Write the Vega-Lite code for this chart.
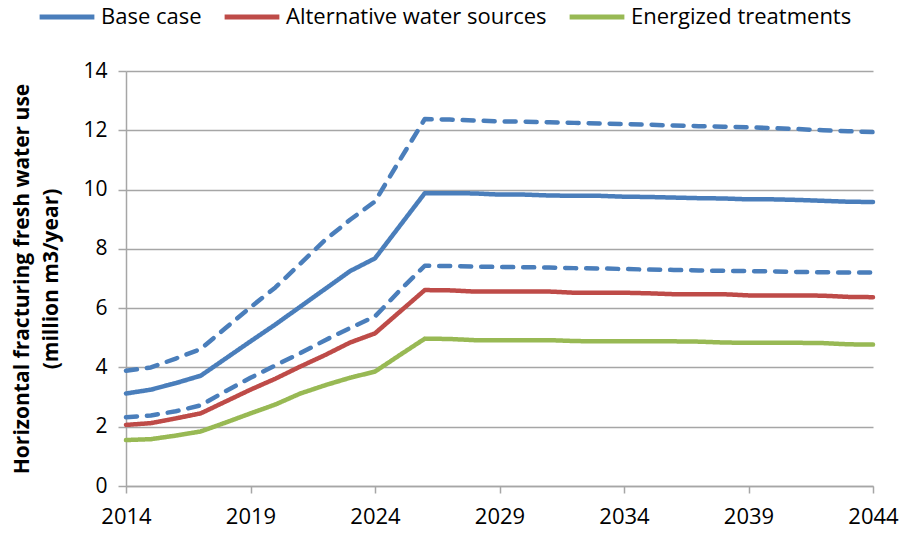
{
  "$schema": "https://vega.github.io/schema/vega-lite/v6.json",
  "autosize": {"type": "none"},
  "width": 747,
  "height": 415,
  "padding": {"left": 126, "top": 71, "right": 30, "bottom": 49},
  "background": "white",
  "config": {"font": "Open Sans", "view": {"stroke": null}},
  "datasets": {
    "meta": [
      {"key": "Base case", "group": "Base case", "style": "solid"},
      {"key": "Base case high", "group": "Base case", "style": "dashed"},
      {"key": "Base case low", "group": "Base case", "style": "dashed"},
      {"key": "Alternative water sources", "group": "Alternative water sources", "style": "solid"},
      {"key": "Energized treatments", "group": "Energized treatments", "style": "solid"}
    ]
  },
  "data": {
    "values": [
      {"year": 2014, "Base case": 3.12, "Base case high": 3.89, "Base case low": 2.32, "Alternative water sources": 2.06, "Energized treatments": 1.55},
      {"year": 2015, "Base case": 3.25, "Base case high": 4.0, "Base case low": 2.38, "Alternative water sources": 2.12, "Energized treatments": 1.58},
      {"year": 2016, "Base case": 3.47, "Base case high": 4.3, "Base case low": 2.52, "Alternative water sources": 2.28, "Energized treatments": 1.7},
      {"year": 2017, "Base case": 3.72, "Base case high": 4.62, "Base case low": 2.72, "Alternative water sources": 2.45, "Energized treatments": 1.84},
      {"year": 2018, "Base case": 4.3, "Base case high": 5.33, "Base case low": 3.2, "Alternative water sources": 2.85, "Energized treatments": 2.14},
      {"year": 2019, "Base case": 4.88, "Base case high": 6.03, "Base case low": 3.65, "Alternative water sources": 3.25, "Energized treatments": 2.45},
      {"year": 2020, "Base case": 5.45, "Base case high": 6.7, "Base case low": 4.07, "Alternative water sources": 3.62, "Energized treatments": 2.75},
      {"year": 2021, "Base case": 6.05, "Base case high": 7.5, "Base case low": 4.48, "Alternative water sources": 4.03, "Energized treatments": 3.12},
      {"year": 2022, "Base case": 6.65, "Base case high": 8.3, "Base case low": 4.92, "Alternative water sources": 4.42, "Energized treatments": 3.4},
      {"year": 2023, "Base case": 7.25, "Base case high": 8.98, "Base case low": 5.33, "Alternative water sources": 4.84, "Energized treatments": 3.65},
      {"year": 2024, "Base case": 7.68, "Base case high": 9.6, "Base case low": 5.72, "Alternative water sources": 5.15, "Energized treatments": 3.86},
      {"year": 2025, "Base case": 8.78, "Base case high": 11.0, "Base case low": 6.6, "Alternative water sources": 5.88, "Energized treatments": 4.42},
      {"year": 2026, "Base case": 9.88, "Base case high": 12.38, "Base case low": 7.43, "Alternative water sources": 6.61, "Energized treatments": 4.97},
      {"year": 2027, "Base case": 9.88, "Base case high": 12.36, "Base case low": 7.42, "Alternative water sources": 6.6, "Energized treatments": 4.96},
      {"year": 2028, "Base case": 9.87, "Base case high": 12.33, "Base case low": 7.4, "Alternative water sources": 6.56, "Energized treatments": 4.92},
      {"year": 2029, "Base case": 9.83, "Base case high": 12.3, "Base case low": 7.39, "Alternative water sources": 6.56, "Energized treatments": 4.92},
      {"year": 2030, "Base case": 9.83, "Base case high": 12.29, "Base case low": 7.38, "Alternative water sources": 6.56, "Energized treatments": 4.92},
      {"year": 2031, "Base case": 9.8, "Base case high": 12.27, "Base case low": 7.37, "Alternative water sources": 6.56, "Energized treatments": 4.92},
      {"year": 2032, "Base case": 9.79, "Base case high": 12.25, "Base case low": 7.35, "Alternative water sources": 6.52, "Energized treatments": 4.89},
      {"year": 2033, "Base case": 9.79, "Base case high": 12.23, "Base case low": 7.34, "Alternative water sources": 6.52, "Energized treatments": 4.88},
      {"year": 2034, "Base case": 9.76, "Base case high": 12.21, "Base case low": 7.32, "Alternative water sources": 6.52, "Energized treatments": 4.88},
      {"year": 2035, "Base case": 9.75, "Base case high": 12.19, "Base case low": 7.3, "Alternative water sources": 6.5, "Energized treatments": 4.88},
      {"year": 2036, "Base case": 9.73, "Base case high": 12.16, "Base case low": 7.29, "Alternative water sources": 6.47, "Energized treatments": 4.88},
      {"year": 2037, "Base case": 9.71, "Base case high": 12.14, "Base case low": 7.27, "Alternative water sources": 6.47, "Energized treatments": 4.87},
      {"year": 2038, "Base case": 9.7, "Base case high": 12.12, "Base case low": 7.26, "Alternative water sources": 6.47, "Energized treatments": 4.84},
      {"year": 2039, "Base case": 9.67, "Base case high": 12.1, "Base case low": 7.25, "Alternative water sources": 6.43, "Energized treatments": 4.83},
      {"year": 2040, "Base case": 9.67, "Base case high": 12.07, "Base case low": 7.24, "Alternative water sources": 6.43, "Energized treatments": 4.83},
      {"year": 2041, "Base case": 9.65, "Base case high": 12.04, "Base case low": 7.22, "Alternative water sources": 6.43, "Energized treatments": 4.83},
      {"year": 2042, "Base case": 9.62, "Base case high": 12.0, "Base case low": 7.21, "Alternative water sources": 6.42, "Energized treatments": 4.82},
      {"year": 2043, "Base case": 9.59, "Base case high": 11.97, "Base case low": 7.2, "Alternative water sources": 6.38, "Energized treatments": 4.78},
      {"year": 2044, "Base case": 9.58, "Base case high": 11.94, "Base case low": 7.2, "Alternative water sources": 6.37, "Energized treatments": 4.77}
    ]
  },
  "transform": [
    {"fold": ["Base case", "Base case high", "Base case low", "Alternative water sources", "Energized treatments"]},
    {"lookup": "key", "from": {"data": {"name": "meta"}, "key": "key", "fields": ["group", "style"]}}
  ],
  "mark": {"type": "line", "strokeWidth": 4.5, "strokeCap": "round", "strokeJoin": "round"},
  "encoding": {
    "x": {
      "field": "year",
      "type": "quantitative",
      "scale": {"domain": [2014, 2044], "nice": false, "zero": false},
      "axis": {
        "values": [2014, 2019, 2024, 2029, 2034, 2039, 2044],
        "format": "d",
        "title": null,
        "grid": false,
        "labelFlush": false,
        "labelOverlap": false,
        "domainColor": "#a6a6a6",
        "domainWidth": 1.5,
        "tickColor": "#a6a6a6",
        "tickWidth": 1.5,
        "tickSize": 7,
        "labelFontSize": 22,
        "labelColor": "black",
        "labelPadding": 13
      }
    },
    "y": {
      "field": "value",
      "type": "quantitative",
      "scale": {"domain": [0, 14], "nice": false},
      "axis": {
        "values": [0, 2, 4, 6, 8, 10, 12, 14],
        "grid": true,
        "gridColor": "#a6a6a6",
        "gridWidth": 1.5,
        "domainColor": "#a6a6a6",
        "domainWidth": 1.5,
        "tickColor": "#a6a6a6",
        "tickWidth": 1.5,
        "tickSize": 8,
        "labelFontSize": 21,
        "labelColor": "black",
        "labelPadding": 11,
        "labelFlush": false,
        "title": ["Horizontal fracturing fresh water use", "(million m3/year)"],
        "titleFontSize": 21,
        "titleFontWeight": "bold",
        "titleColor": "black",
        "titleLineHeight": 29,
        "titlePadding": 21
      }
    },
    "color": {
      "field": "group",
      "type": "nominal",
      "scale": {
        "domain": ["Base case", "Alternative water sources", "Energized treatments"],
        "range": ["#4a7ebb", "#be4b48", "#98b954"]
      },
      "legend": {
        "title": null,
        "orient": "none",
        "direction": "horizontal",
        "legendX": -89,
        "legendY": -84,
        "symbolType": "stroke",
        "symbolSize": 3000,
        "symbolStrokeWidth": 5,
        "labelFontSize": 22,
        "labelLimit": 0,
        "labelColor": "black",
        "labelOffset": 4,
        "columnPadding": 12
      }
    },
    "strokeDash": {
      "field": "style",
      "type": "nominal",
      "scale": {"domain": ["solid", "dashed"], "range": [[1, 0], [11, 10]]},
      "legend": null
    },
    "detail": {"field": "key"}
  }
}
